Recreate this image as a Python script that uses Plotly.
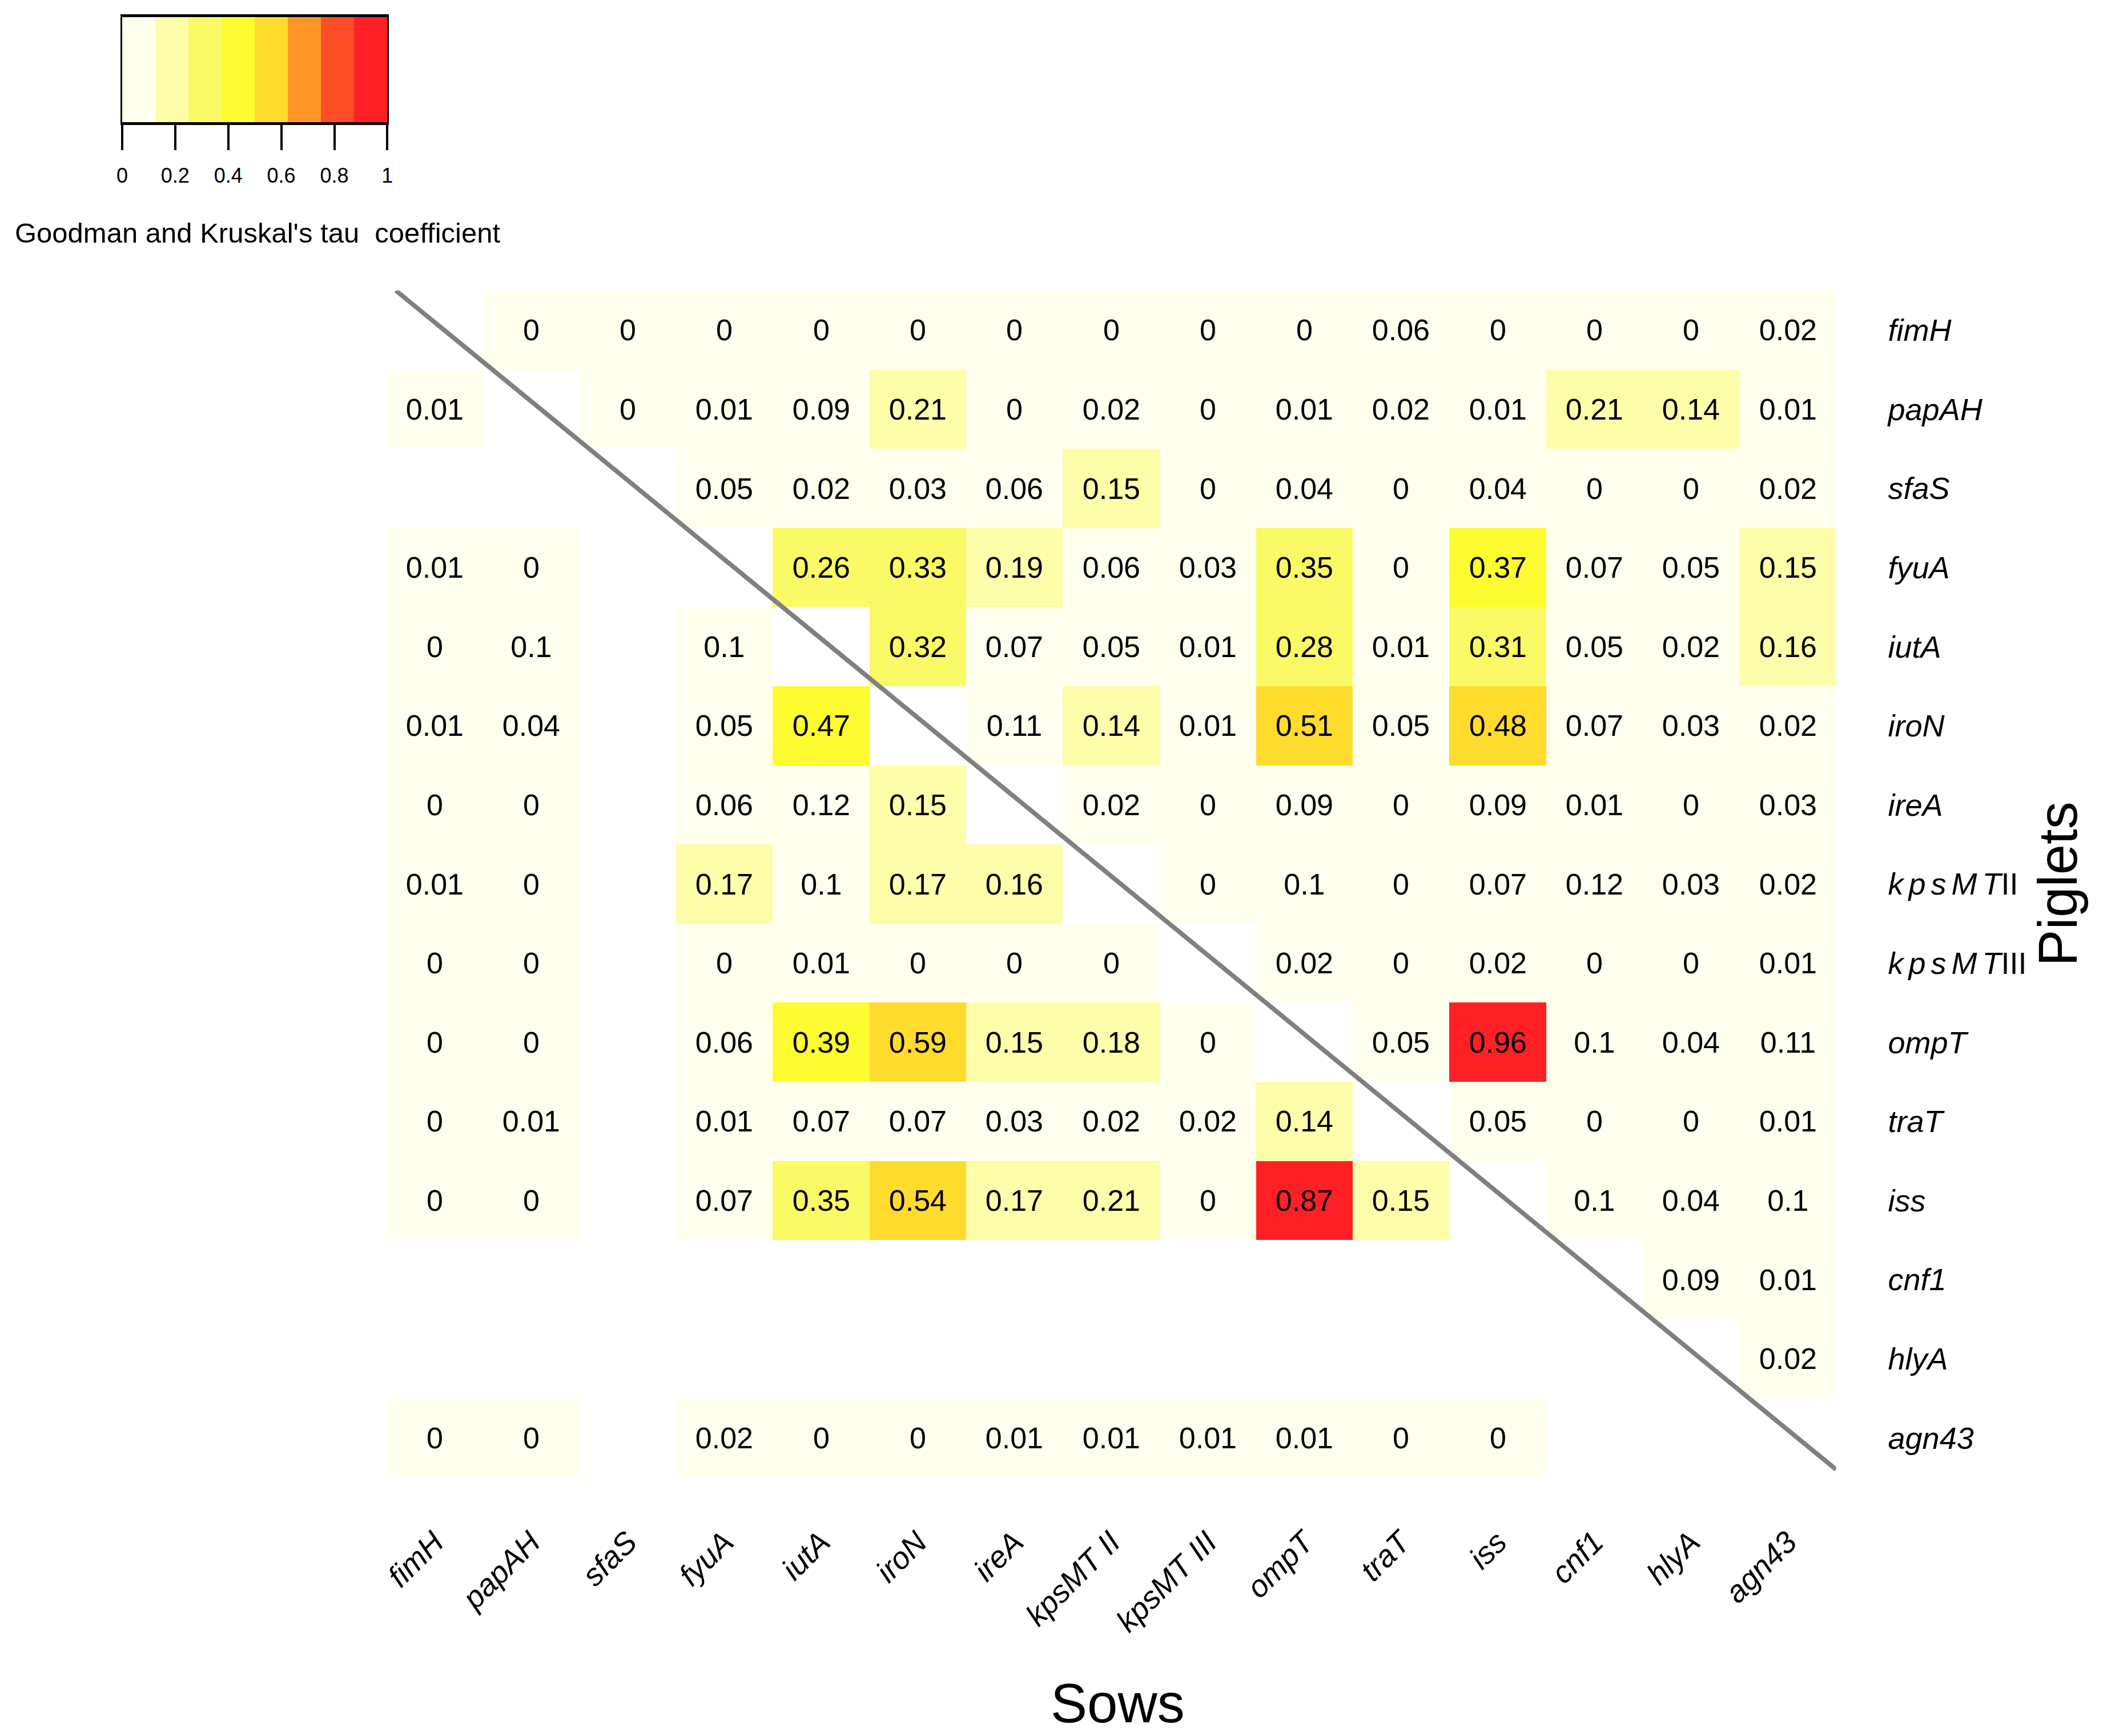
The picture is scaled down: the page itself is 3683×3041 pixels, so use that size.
import numpy as np
import plotly.graph_objects as go

# genes, same order on both axes (rows = Piglets, columns = Sows)
genes = ["fimH", "papAH", "sfaS", "fyuA", "iutA", "iroN", "ireA", "kpsMTII",
         "kpsMTIII", "ompT", "traT", "iss", "cnf1", "hlyA", "agn43"]
row_text = ["<i>fimH</i>", "<i>papAH</i>", "<i>sfaS</i>", "<i>fyuA</i>", "<i>iutA</i>",
            "<i>iroN</i>", "<i>ireA</i>", "<i>k\u2006p\u2006s\u2006M\u2006T</i>II",
            "<i>k\u2006p\u2006s\u2006M\u2006T</i>III", "<i>ompT</i>", "<i>traT</i>",
            "<i>iss</i>", "<i>cnf1</i>", "<i>hlyA</i>", "<i>agn43</i>"]
col_text = ["<i>fimH</i>", "<i>papAH</i>", "<i>sfaS</i>", "<i>fyuA</i>", "<i>iutA</i>",
            "<i>iroN</i>", "<i>ireA</i>", "<i>kpsMT II</i>", "<i>kpsMT III</i>",
            "<i>ompT</i>", "<i>traT</i>", "<i>iss</i>", "<i>cnf1</i>", "<i>hlyA</i>",
            "<i>agn43</i>"]

N = None  # blank cell
fimH     = [N, 0, 0, 0, 0, 0, 0, 0, 0, 0, 0.06, 0, 0, 0, 0.02]
papAH    = [0.01, N, 0, 0.01, 0.09, 0.21, 0, 0.02, 0, 0.01, 0.02, 0.01, 0.21, 0.14, 0.01]
sfaS     = [N, N, N, 0.05, 0.02, 0.03, 0.06, 0.15, 0, 0.04, 0, 0.04, 0, 0, 0.02]
fyuA     = [0.01, 0, N, N, 0.26, 0.33, 0.19, 0.06, 0.03, 0.35, 0, 0.37, 0.07, 0.05, 0.15]
iutA     = [0, 0.1, N, 0.1, N, 0.32, 0.07, 0.05, 0.01, 0.28, 0.01, 0.31, 0.05, 0.02, 0.16]
iroN     = [0.01, 0.04, N, 0.05, 0.47, N, 0.11, 0.14, 0.01, 0.51, 0.05, 0.481, 0.07, 0.03, 0.02]
ireA     = [0, 0, N, 0.06, 0.118, 0.15, N, 0.02, 0, 0.09, 0, 0.09, 0.01, 0, 0.03]
kpsMTII  = [0.01, 0, N, 0.17, 0.1, 0.17, 0.16, N, 0, 0.1, 0, 0.07, 0.118, 0.03, 0.02]
kpsMTIII = [0, 0, N, 0, 0.01, 0, 0, 0, N, 0.02, 0, 0.02, 0, 0, 0.01]
ompT     = [0, 0, N, 0.06, 0.39, 0.59, 0.15, 0.18, 0, N, 0.05, 0.96, 0.1, 0.04, 0.11]
traT     = [0, 0.01, N, 0.01, 0.07, 0.07, 0.03, 0.02, 0.02, 0.14, N, 0.05, 0, 0, 0.01]
iss      = [0, 0, N, 0.07, 0.35, 0.54, 0.17, 0.21, 0, 0.87, 0.15, N, 0.1, 0.04, 0.1]
cnf1     = [N, N, N, N, N, N, N, N, N, N, N, N, N, 0.09, 0.01]
hlyA     = [N, N, N, N, N, N, N, N, N, N, N, N, N, N, 0.02]
agn43    = [0, 0, N, 0.02, 0, 0, 0.01, 0.01, 0.01, 0.01, 0, 0, N, N, N]

rows = [fimH, papAH, sfaS, fyuA, iutA, iroN, ireA, kpsMTII, kpsMTIII,
        ompT, traT, iss, cnf1, hlyA, agn43]

band_colors = ["#FFFFEE", "#FDFDAA", "#FAFA66", "#FCFC30",
               "#FFDB2E", "#FF9628", "#FF4D28", "#FF2026"]
legend_ticks = [0, 0.2, 0.4, 0.6, 0.8, 1]

tau = np.array([[np.nan if v is None else v for v in r] for r in rows], dtype=float)
labels = [["" if np.isnan(v) else f"{round(v, 2):g}" for v in r] for r in tau]
n = len(genes)

# discrete colour scale, 8 equal bands
k = len(band_colors)
cscale = []
for i, c in enumerate(band_colors):
    cscale.append([i / k, c])
    cscale.append([(i + 1) / k, c])

FONT = "Liberation Sans, Arial, sans-serif"
W, H = 3683, 3041

fig = go.Figure()

fig.add_trace(go.Heatmap(
    z=tau, x=list(range(n)), y=list(range(n)),
    text=labels, texttemplate="%{text}",
    textfont=dict(family=FONT, size=52, color="black"),
    colorscale=cscale, zmin=0, zmax=np.nanmax(tau),
    showscale=False, hoverinfo="skip",
))

# diagonal line
fig.add_trace(go.Scatter(
    x=[-0.4, n - 0.5], y=[-0.5, n - 0.6], mode="lines",
    line=dict(color="#808080", width=8), hoverinfo="skip", showlegend=False,
))

# colour key as its own small heatmap
edges = np.linspace(0, 1, k + 1)
centers = (edges[:-1] + edges[1:]) / 2
fig.add_trace(go.Heatmap(
    z=[list(range(k))], x=centers, y=[0],
    colorscale=cscale, zmin=-0.5, zmax=k - 0.5,
    showscale=False, hoverinfo="skip", xaxis="x2", yaxis="y2",
))

fig.update_layout(
    width=W, height=H,
    margin=dict(l=0, r=0, t=0, b=0),
    paper_bgcolor="white", plot_bgcolor="white",
    font=dict(family=FONT, color="black"),
    showlegend=False,
    xaxis=dict(
        domain=[662 / W, 3215 / W], range=[-0.5, n - 0.5],
        tickvals=list(range(n)), ticktext=col_text, tickangle=-45,
        tickfont=dict(size=54), ticklabelstandoff=70,
        showgrid=False, zeroline=False, showline=False, ticks="",
    ),
    yaxis=dict(
        domain=[1 - 2580 / H, 1 - 501 / H], range=[n - 0.5, -0.5],
        tickvals=list(range(n)), ticktext=row_text, side="right",
        tickfont=dict(size=54), ticklabelstandoff=90,
        showgrid=False, zeroline=False, showline=False, ticks="",
    ),
    xaxis2=dict(
        domain=[197 / W, 664 / W], range=[0, 1], anchor="y2",
        tickvals=legend_ticks, ticktext=[f"{t:g}" for t in legend_ticks],
        ticks="outside", ticklen=44, tickwidth=4, tickcolor="black",
        tickfont=dict(size=36), ticklabelstandoff=14,
        showline=True, linewidth=5, linecolor="black", mirror=True,
        showgrid=False, zeroline=False,
    ),
    yaxis2=dict(
        domain=[1 - 206 / H, 1 - 22 / H], range=[-0.5, 0.5], anchor="x2",
        showticklabels=False, ticks="",
        showline=True, linewidth=3, linecolor="black", mirror=True,
        showgrid=False, zeroline=False,
    ),
    annotations=[
        dict(text="Goodman and Kruskal's tau  coefficient", x=6 / W, y=1 - 400 / H,
             xref="paper", yref="paper", xanchor="left", yanchor="middle",
             showarrow=False, font=dict(size=49)),
        dict(text="Sows", x=1950 / W, y=1 - 2975 / H, xref="paper", yref="paper",
             xanchor="center", yanchor="middle", showarrow=False, font=dict(size=96)),
        dict(text="Piglets", x=3605 / W, y=1 - 1540 / H, xref="paper", yref="paper",
             xanchor="center", yanchor="middle", textangle=-90, showarrow=False,
             font=dict(size=96)),
    ],
)

fig.write_html("out.html")
